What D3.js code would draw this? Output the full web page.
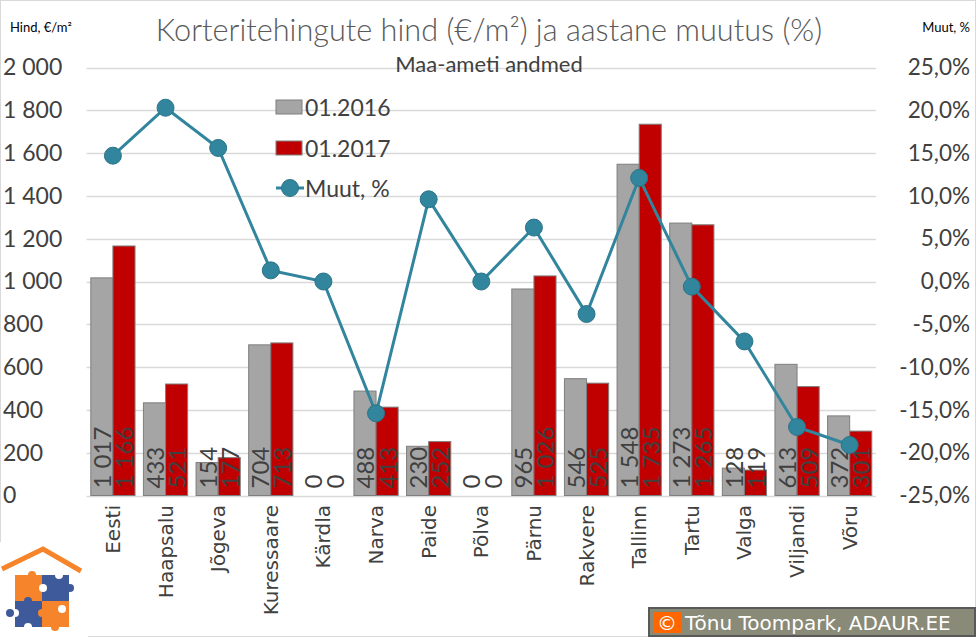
<!DOCTYPE html>
<meta charset="utf-8">
<style>
  body { margin: 0; background: #fff; }
  text { font-family: Lato, "Open Sans", sans-serif; }
</style>
<body>
<script src="https://d3js.org/d3.v7.min.js"></script>
<div id="chart"></div>
<script>

// data
var cities = ["Eesti", "Haapsalu", "Jõgeva", "Kuressaare", "Kärdla", "Narva", "Paide", "Põlva",
              "Pärnu", "Rakvere", "Tallinn", "Tartu", "Valga", "Viljandi", "Võru"];
var series = ["01.2016", "01.2017"];
var price2016 = [1017, 433, 154, 704, 0, 488, 230, 0, 965, 546, 1548, 1273, 128, 613, 372];
var price2017 = [1166, 521, 177, 713, 0, 413, 252, 0, 1026, 525, 1735, 1265, 119, 509, 301];
var change = [14.7, 20.3, 15.6, 1.3, 0, -15.4, 9.6, 0, 6.3, -3.8, 12.1, -0.6, -7.0, -17.0, -19.1];
var leftTicks = [0, 200, 400, 600, 800, 1000, 1200, 1400, 1600, 1800, 2000];
var rightTicks = [-25, -20, -15, -10, -5, 0, 5, 10, 15, 20, 25];

var W = 977, H = 638;
var colors = {"01.2016": "#a5a5a5", "01.2017": "#c00000"};
var lineColor = "#31859c";

var et = d3.formatLocale({decimal: ",", thousands: " ", grouping: [3], currency: ["", "€"], minus: "-"});
var fmtInt = et.format(",d");
var fmtPct = function(v) { return et.format(".1f")(v) + "%"; };

var svg = d3.select("#chart").append("svg")
    .attr("width", W)
    .attr("height", H);

// outer frame
svg.append("rect")
    .attr("x", 0.5).attr("y", 0.5)
    .attr("width", W - 2).attr("height", H - 2)
    .style("fill", "none")
    .style("stroke", "#d9d9d9");

var x = d3.scaleBand()
    .domain(cities)
    .range([86.6, 876]);

var xs = d3.scaleBand()
    .domain(series)
    .range([0, x.step()])
    .paddingOuter(0.19);

var y = d3.scaleLinear()
    .domain([0, 2000])
    .range([495.5, 67.5]);

var y2 = d3.scaleLinear()
    .domain([-25, 25])
    .range([495.5, 67.5]);

// gridlines
svg.append("g")
  .selectAll("line")
  .data(leftTicks)
  .enter().append("line")
    .attr("x1", x.range()[0]).attr("x2", x.range()[1])
    .attr("y1", function(d) { return Math.round(y(d)) + 0.5; })
    .attr("y2", function(d) { return Math.round(y(d)) + 0.5; })
    .style("stroke", "#d9d9d9")
    .style("stroke-width", 1.3);

// left axis labels
var leftAxis = svg.append("g")
    .attr("transform", "translate(3,0)")
    .call(d3.axisLeft(y).tickValues(leftTicks).tickFormat(fmtInt).tickSize(0).tickPadding(0));
leftAxis.select(".domain").remove();
leftAxis.selectAll("text")
    .attr("text-anchor", "start")
    .style("font-family", "Lato, sans-serif")
    .style("font-size", "23px")
    .style("fill", "#404040");

// right axis labels
var rightAxis = svg.append("g")
    .attr("transform", "translate(970,0)")
    .call(d3.axisRight(y2).tickValues(rightTicks).tickFormat(fmtPct).tickSize(0).tickPadding(0));
rightAxis.select(".domain").remove();
rightAxis.selectAll("text")
    .attr("text-anchor", "end")
    .style("font-family", "Lato, sans-serif")
    .style("font-size", "22.5px")
    .style("fill", "#404040");

// bars
var rows = cities.map(function(c, i) {
  return {city: c, values: [{s: series[0], v: price2016[i]}, {s: series[1], v: price2017[i]}]};
});

var groups = svg.selectAll(".city")
    .data(rows)
    .enter().append("g")
    .attr("class", "city")
    .attr("transform", function(d) { return "translate(" + x(d.city) + ",0)"; });

groups.selectAll("rect")
    .data(function(d) { return d.values.filter(function(e) { return e.v > 0; }); })
    .enter().append("rect")
    .attr("x", function(d) { return xs(d.s); })
    .attr("width", xs.bandwidth())
    .attr("y", function(d) { return y(d.v); })
    .attr("height", function(d) { return y(0) - y(d.v); })
    .style("fill", function(d) { return colors[d.s]; })
    .style("stroke", "#7f7f7f")
    .style("stroke-width", 1);

// value labels inside bars
groups.selectAll(".val")
    .data(function(d) { return d.values; })
    .enter().append("text")
    .attr("class", "val")
    .attr("transform", function(d) {
      return "translate(" + (xs(d.s) + xs.bandwidth() / 2) + "," + (y(0) - 7) + ") rotate(-90)";
    })
    .attr("text-anchor", "start")
    .attr("dominant-baseline", "central")
    .style("font-size", "24px")
    .style("fill", "#404040")
    .text(function(d) { return fmtInt(d.v); });

// category labels
svg.append("g")
  .selectAll("text")
  .data(cities)
  .enter().append("text")
    .attr("transform", function(d) {
      return "translate(" + (x(d) + x.bandwidth() / 2) + ",505) rotate(-90)";
    })
    .attr("text-anchor", "end")
    .attr("dominant-baseline", "central")
    .style("font-family", "DejaVu Sans, sans-serif")
    .style("font-size", "20px")
    .style("fill", "#404040")
    .text(function(d) { return d; });

// change line
var line = d3.line()
    .x(function(d, i) { return x(cities[i]) + x.bandwidth() / 2; })
    .y(function(d) { return y2(d); });

svg.append("path")
    .datum(change)
    .attr("d", line)
    .style("fill", "none")
    .style("stroke", lineColor)
    .style("stroke-width", 3);

svg.selectAll(".dot")
    .data(change)
    .enter().append("circle")
    .attr("class", "dot")
    .attr("cx", function(d, i) { return x(cities[i]) + x.bandwidth() / 2; })
    .attr("cy", function(d) { return y2(d); })
    .attr("r", 8.5)
    .style("fill", lineColor)
    .style("stroke", "#2b7489")
    .style("stroke-width", 1);

// titles
svg.append("text")
    .attr("x", 489).attr("y", 41)
    .attr("text-anchor", "middle")
    .style("font-size", "30.7px")
    .style("font-weight", 300)
    .style("fill", "#595959")
    .text("Korteritehingute hind (€/m²) ja aastane muutus (%)");

svg.append("text")
    .attr("x", 489).attr("y", 72)
    .attr("text-anchor", "middle")
    .style("font-size", "22px")
    .style("fill", "#404040")
    .text("Maa-ameti andmed");

svg.append("text")
    .attr("x", 10).attr("y", 32)
    .style("font-size", "13px")
    .style("fill", "#000")
    .text("Hind, €/m²");

svg.append("text")
    .attr("x", 970).attr("y", 32)
    .attr("text-anchor", "end")
    .style("font-size", "13px")
    .style("fill", "#000")
    .text("Muut, %");

// legend
var legend = svg.append("g").attr("transform", "translate(276,0)");
series.forEach(function(s, i) {
  var cy = 107 + i * 41;
  legend.append("rect")
      .attr("x", 0).attr("y", cy - 7)
      .attr("width", 26).attr("height", 14)
      .style("fill", colors[s])
      .style("stroke", "#7f7f7f");
  legend.append("text")
      .attr("x", 29).attr("y", cy)
      .attr("dominant-baseline", "central")
      .style("font-size", "23px")
      .style("fill", "#404040")
      .text(s);
});
legend.append("line")
    .attr("x1", 0).attr("x2", 28)
    .attr("y1", 188).attr("y2", 188)
    .style("stroke", lineColor)
    .style("stroke-width", 3);
legend.append("circle")
    .attr("cx", 14).attr("cy", 188).attr("r", 8.5)
    .style("fill", lineColor)
    .style("stroke", "#2b7489");
legend.append("text")
    .attr("x", 29).attr("y", 188)
    .attr("dominant-baseline", "central")
    .style("font-size", "23px")
    .style("fill", "#404040")
    .text("Muut, %");

// logo
var logo = svg.append("g");
logo.append("rect").attr("x", 0).attr("y", 542).attr("width", 88).attr("height", 96).style("fill", "#fff");
logo.append("polyline")
    .attr("points", "2,569 43,549 81,571")
    .style("fill", "none")
    .style("stroke", "#f5842a")
    .style("stroke-width", 5);
var pieces = [[15, 575, "#f5842a"], [42, 575, "#3f5a9a"], [15, 601, "#3f5a9a"], [42, 601, "#f5842a"]];
pieces.forEach(function(p) {
  logo.append("rect").attr("x", p[0]).attr("y", p[1]).attr("width", 27).attr("height", 26).style("fill", p[2]);
});
var knobs = [[32, 575, "#f5842a"], [43, 588, "#fff"], [59, 575, "#fff"], [70, 588, "#3f5a9a"],
             [15, 613, "#fff"], [10, 613, "#3f5a9a"], [28, 601, "#3f5a9a"], [42, 613, "#f5842a"],
             [28, 627, "#fff"], [55, 627, "#f5842a"], [62, 609, "#fff"]];
knobs.forEach(function(k) {
  logo.append("circle").attr("cx", k[0]).attr("cy", k[1]).attr("r", 4).style("fill", k[2]);
});

// copyright box
svg.append("rect")
    .attr("x", 649).attr("y", 608)
    .attr("width", 326).attr("height", 28)
    .style("fill", "#8a8a78")
    .style("stroke", "#595959")
    .style("stroke-width", 2);
svg.append("rect")
    .attr("x", 653).attr("y", 612)
    .attr("width", 28).attr("height", 21)
    .style("fill", "#ff6600");
svg.append("text")
    .attr("x", 667).attr("y", 623)
    .attr("text-anchor", "middle")
    .attr("dominant-baseline", "central")
    .style("font-family", "DejaVu Sans, sans-serif")
    .style("font-size", "20px")
    .style("fill", "#fff")
    .text("©");
svg.append("text")
    .attr("x", 685).attr("y", 623)
    .attr("dominant-baseline", "central")
    .style("font-family", "DejaVu Sans, sans-serif")
    .style("font-size", "20px")
    .style("fill", "#fff")
    .text("Tõnu Toompark, ADAUR.EE");

</script>
</body>
